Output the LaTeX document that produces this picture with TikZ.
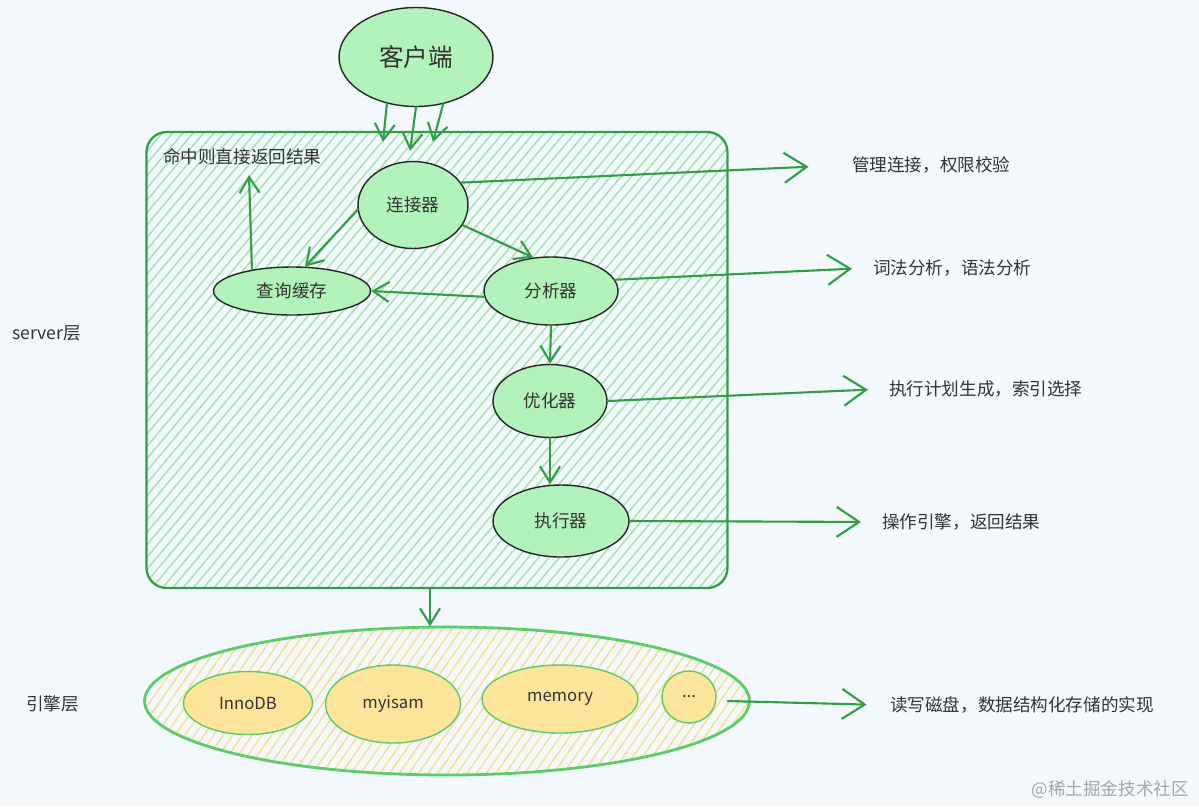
\documentclass[tikz,border=0pt]{standalone}
\usepackage{fontspec}
\setmainfont{Noto Sans CJK SC}
\usetikzlibrary{shapes.geometric,arrows.meta,patterns.meta}
\definecolor{pagebg}{HTML}{F3F8FD}
\definecolor{leafgreen}{HTML}{B2F2BB}
\definecolor{linegreen}{HTML}{2F9E44}
\definecolor{rimgreen}{HTML}{5CCB6A}
\definecolor{engyellow}{HTML}{FCE59A}
\definecolor{hatchgreen}{HTML}{A3E2AC}
\definecolor{hatchyellow}{HTML}{F6DE8C}
\definecolor{inkgray}{HTML}{333333}
\begin{document}
\begin{tikzpicture}[
    x=0.02cm, y=-0.02cm,
    every node/.style={text=inkgray},
    stage/.style={ellipse, draw=black!85, line width=0.8pt, fill=leafgreen,
        inner sep=0pt, font=\fontsize{10}{12}\selectfont},
    engine/.style={ellipse, draw=rimgreen, line width=0.8pt, fill=engyellow,
        inner sep=0pt, font=\fontsize{9.5}{11}\selectfont},
    note/.style={anchor=west, font=\fontsize{10}{12}\selectfont},
    flow/.style={draw=linegreen, line width=1.2pt, line cap=round,
        -{Straight Barb[length=3.2mm,width=4mm]}},
    outflow/.style={flow, -{Straight Barb[length=4.5mm,width=6mm]}}
]
\fill[pagebg] (0,0) rectangle (1199,806);
\useasboundingbox (0,0) rectangle (1199,806);

% server layer box
\node[draw=linegreen, line width=1.3pt, rounded corners=0.4cm,
      pattern={Lines[angle=50,distance=4.5pt,line width=0.8pt]}, pattern color=hatchgreen,
      minimum width=11.62cm, minimum height=9.12cm] (server) at (437,360) {};

% engine layer
\node[ellipse, draw=rimgreen, line width=1.6pt,
      pattern={Lines[angle=55,distance=4.5pt,line width=0.8pt]}, pattern color=hatchyellow,
      minimum width=12.1cm, minimum height=2.96cm] (enginebox) at (447,701) {};

% stages
\node[stage, minimum width=3.08cm, minimum height=1.98cm,
      font=\fontsize{14}{16}\selectfont] (client) at (416,57) {客户端};
\node[stage, minimum width=2.2cm, minimum height=1.74cm] (conn) at (413,205) {连接器};
\node[stage, minimum width=3.14cm, minimum height=0.96cm] (cache) at (292,291) {查询缓存};
\node[stage, minimum width=2.68cm, minimum height=1.36cm] (parser) at (551,291) {分析器};
\node[stage, minimum width=2.28cm, minimum height=1.46cm] (optimizer) at (550,401) {优化器};
\node[stage, minimum width=2.72cm, minimum height=1.44cm] (executor) at (561,521) {执行器};

% storage engines
\node[engine, minimum width=2.58cm, minimum height=1.26cm] (innodb) at (248,703) {InnoDB};
\node[engine, minimum width=2.7cm, minimum height=1.56cm] (myisam) at (393,704) {myisam};
\node[engine, minimum width=3.12cm, minimum height=1.36cm] (memory) at (560,699) {memory};
\node[engine, minimum width=1.08cm, minimum height=1.04cm] (more) at (689,697) {...};

% labels
\node[note] (hit) at (157,157) {命中则直接返回结果};
\node[note] (serverlayer) at (6,333) {server层};
\node[note] (enginelayer) at (20,704) {引擎层};
\node[note] (connnote) at (846,165) {管理连接，权限校验};
\node[note] (parsenote) at (867,268) {词法分析，语法分析};
\node[note] (optnote) at (883,389) {执行计划生成，索引选择};
\node[note] (execnote) at (876,522) {操作引擎，返回结果};
\node[note] (storenote) at (884,705) {读写磁盘，数据结构化存储的实现};
\node[anchor=east, text=black!35, font=\fontsize{10}{12}\selectfont] (mark) at (1195,790) {@稀土掘金技术社区};
\coordinate (hitend) at (249,175);

% flows
\draw[flow] (client.238) -- ([xshift=-0.6cm,yshift=0.38cm]conn.north);
\draw[flow] (client.south) -- ([xshift=-0.06cm,yshift=0.2cm]conn.north);
\draw[flow] (client.300) -- ([xshift=0.4cm,yshift=0.38cm]conn.north);
\draw[flow] (conn.185) -- (cache.62);
\draw[flow] (conn.-22) -- (parser.118);
\draw[flow] (parser.185) -- (cache.east);
\draw[flow] (cache.152) -- (hitend);
\draw[flow] (parser.south) -- (optimizer.north);
\draw[flow] (optimizer.south) -- (executor.north -| optimizer.south);
\draw[flow] (server.south -| 430,0) -- (enginebox.north -| 430,0);

% notes on the right
\draw[outflow, shorten >=0.75cm] (conn.25) -- (connnote.west);
\draw[outflow, shorten >=0.3cm] (parser.10) -- (parsenote.west);
\draw[outflow, shorten >=0.3cm] (optimizer.east) -- (optnote.west);
\draw[outflow, shorten >=0.3cm] (executor.east) -- (execnote.west);
\draw[outflow, shorten >=0.35cm] ([xshift=-0.45cm]enginebox.east) -- (storenote.west);
\end{tikzpicture}
\end{document}
